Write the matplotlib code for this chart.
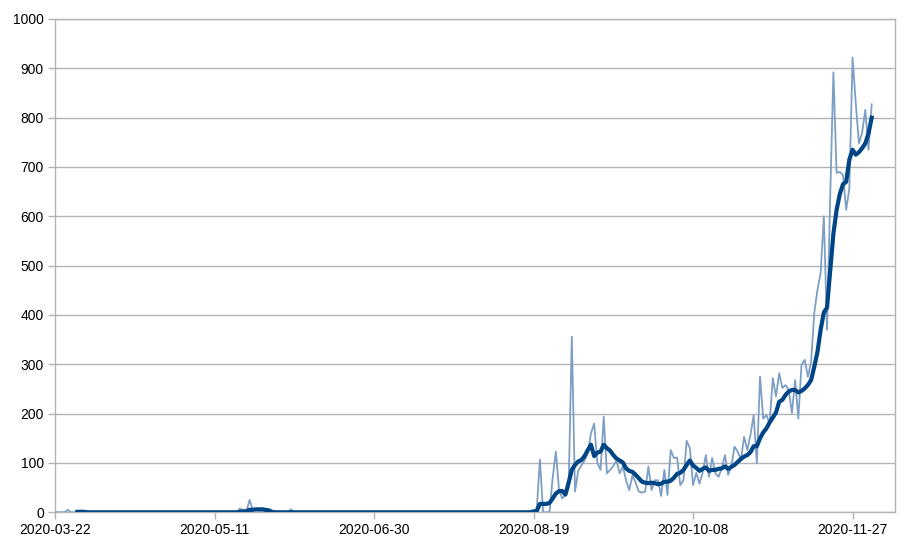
import numpy as np
import matplotlib
matplotlib.use("Agg")
import matplotlib.pyplot as plt
import matplotlib.dates as mdates
import pandas as pd

plt.rcParams['font.family'] = ['Liberation Sans', 'DejaVu Sans']

start_date = "2020-03-22"
tick_dates = ["2020-03-22", "2020-05-11", "2020-06-30", "2020-08-19", "2020-10-08", "2020-11-27"]

# daily counts
daily_spring = [0, 0, 0, 0, 5, 0, 0] + [0] * 51
daily_may = [8, 3, 2, 25, 4, 5, 3, 4, 2] + [0] * 7 + [6]
daily_summer = [0] * 73
daily_autumn = [0, 3, 5, 5, 107, 0, 0, 0, 70, 123,
                45, 28, 35, 50, 356, 42, 84, 95, 105, 120,
                160, 180, 100, 86, 194, 79, 86, 94, 105, 79,
                93, 65, 45, 75, 60, 42, 40, 42, 93, 45,
                65, 65, 33, 86, 35, 126, 110, 111, 55, 65,
                145, 130, 55, 80, 58, 80, 116, 72, 110, 79,
                72, 89, 116, 76, 93, 133, 123, 106, 153, 126,
                157, 197, 99, 275, 190, 197, 180, 272, 235, 282,
                252, 258, 248, 201, 268, 190, 299, 309, 275, 304,
                404, 451, 485, 600, 370, 640, 892, 688, 690, 684,
                613, 657, 922, 830, 748, 770, 816, 735, 827]

# 7 day average (thick line), also
avg_spring = [np.nan] * 7 + [1, 1, 1] + [0] * 48
avg_may = [1, 2, 2, 5, 5, 6, 6, 6, 5, 4, 1]
avg_summer = [0] * 79
avg_autumn = [0, 0, 1, 3, 17, 17, 17, 19, 28, 38,
              43, 43, 36, 60, 86, 96, 103, 106, 114, 126,
              137, 114, 121, 123, 137, 130, 125, 116, 109, 105,
              101, 89, 84, 82, 76, 69, 62, 60, 59, 60,
              59, 57, 58, 62, 62, 64, 70, 78, 80, 86,
              96, 105, 95, 90, 84, 88, 91, 84, 86, 86,
              88, 89, 93, 88, 92, 96, 102, 108, 113, 116,
              122, 134, 134, 150, 162, 170, 182, 192, 202, 224,
              228, 238, 245, 248, 248, 243, 246, 251, 258, 268,
              295, 325, 370, 405, 415, 490, 565, 613, 645, 665,
              670, 715, 735, 725, 730, 738, 748, 768, 800]

daily = np.array(daily_spring + daily_may + daily_summer + daily_autumn, dtype=float)
avg = np.array(avg_spring + avg_may + avg_summer + avg_autumn, dtype=float)
dates = pd.date_range(start_date, periods=len(daily))

fig = plt.figure(figsize=(9.13, 5.48), dpi=100)
ax = fig.add_axes([55 / 913, 1 - 512.3 / 548, (895.3 - 55) / 913, (512.3 - 19) / 548])

grid_col = '#b3b3b3'
ax.plot(dates, daily, color='#7d9fc5', linewidth=1.3, zorder=3)
ax.plot(dates, avg, color='#004586', linewidth=3.0, zorder=4, solid_joinstyle='round')

ax.set_ylim(0, 1000)
ax.set_yticks(np.arange(0, 1001, 100))
x0 = pd.Timestamp(start_date)
ax.set_xlim(x0, x0 + pd.Timedelta(days=263.4))
ax.set_xticks([pd.Timestamp(d) for d in tick_dates])
ax.xaxis.set_major_formatter(mdates.DateFormatter('%Y-%m-%d'))

ax.yaxis.grid(True, color=grid_col, linewidth=1.0)
ax.set_axisbelow(True)
for s in ax.spines.values():
    s.set_color(grid_col)
    s.set_linewidth(1.0)
ax.tick_params(axis='both', colors=grid_col, length=5, width=1.0, labelcolor='black', labelsize=10)
ax.tick_params(axis='y', pad=3)
ax.tick_params(axis='x', pad=3)

fig.savefig("out.png", dpi=100)
